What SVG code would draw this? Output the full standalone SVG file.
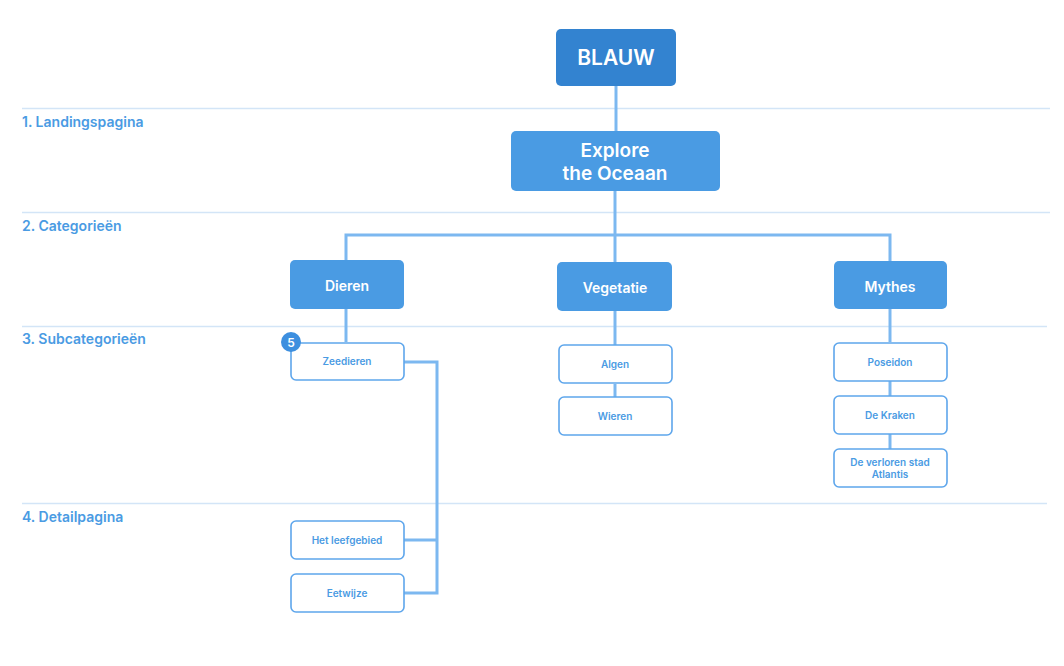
<svg xmlns="http://www.w3.org/2000/svg" width="1064" height="666" viewBox="0 0 1064 666">
<style>
.sep{stroke:#d3e5f7;stroke-width:1.5;fill:none}
.lvl{font-family:Inter,"Noto Sans",sans-serif;font-size:14px;font-weight:600;fill:#4a9be3}
.con{stroke:#7cb8f0;stroke-width:3;fill:none}
.main{fill:#4a9be3}
.top{fill:#3383d0}
.wt{font-family:Inter,"Noto Sans",sans-serif;fill:#ffffff;font-weight:600;text-anchor:middle}
.sub{fill:#ffffff;stroke:#5ea6ec;stroke-width:1.6}
.st{font-family:Inter,"Noto Sans",sans-serif;font-size:10px;font-weight:600;fill:#4a9be3;text-anchor:middle}
</style>
<rect width="1064" height="666" fill="#ffffff"/>
<g id="levels">
<line class="sep" x1="22" y1="108.5" x2="1050" y2="108.5"/>
<line class="sep" x1="22" y1="212.5" x2="1050" y2="212.5"/>
<line class="sep" x1="22" y1="326.5" x2="1047" y2="326.5"/>
<line class="sep" x1="22" y1="503.5" x2="1047" y2="503.5"/>
<text class="lvl" x="22" y="127">1. Landingspagina</text>
<text class="lvl" x="22" y="231">2. Categorieën</text>
<text class="lvl" x="22" y="344">3. Subcategorieën</text>
<text class="lvl" x="22" y="522">4. Detailpagina</text>
</g>
<g id="connectors">
<line class="con" x1="616" y1="86" x2="616" y2="131"/>
<line class="con" x1="615" y1="191" x2="615" y2="262"/>
<polyline class="con" points="346,260 346,235 890,235 890,261"/>
<line class="con" x1="346" y1="309" x2="346" y2="342"/>
<polyline class="con" points="404,362 437,362 437,593 404,593"/>
<line class="con" x1="404" y1="540" x2="437" y2="540"/>
<line class="con" x1="615" y1="311" x2="615" y2="345"/>
<line class="con" x1="615" y1="384" x2="615" y2="397"/>
<line class="con" x1="890" y1="309" x2="890" y2="342"/>
<line class="con" x1="890" y1="381" x2="890" y2="396"/>
<line class="con" x1="890" y1="434" x2="890" y2="449"/>
</g>
<g id="blauw">
<rect class="top" x="556" y="29" width="120" height="57" rx="5"/>
<text class="wt" x="616" y="65" font-size="21">BLAUW</text>
</g>
<g id="explore">
<rect class="main" x="511" y="131" width="209" height="60" rx="5"/>
<text class="wt" x="615" y="157" font-size="19">Explore</text>
<text class="wt" x="615" y="180" font-size="19">the Oceaan</text>
</g>
<g id="dieren">
<rect class="main" x="290" y="260" width="114" height="49" rx="5"/>
<text class="wt" x="347" y="291" font-size="14">Dieren</text>
</g>
<g id="vegetatie">
<rect class="main" x="557" y="262" width="115" height="49" rx="5"/>
<text class="wt" x="615" y="293" font-size="14">Vegetatie</text>
</g>
<g id="mythes">
<rect class="main" x="834" y="261" width="113" height="48" rx="5"/>
<text class="wt" x="890" y="292" font-size="14">Mythes</text>
</g>
<g id="zeedieren">
<rect class="sub" x="291" y="343" width="113" height="37" rx="5"/>
<text class="st" x="347" y="365">Zeedieren</text>
</g>
<g id="badge">
<circle cx="291" cy="342" r="10" fill="#3d8fdf"/>
<text x="291" y="346.5" font-family="Inter,'Noto Sans',sans-serif" font-size="12" font-weight="600" fill="#ffffff" text-anchor="middle">5</text>
</g>
<g id="leefgebied">
<rect class="sub" x="291" y="521" width="113" height="38" rx="5"/>
<text class="st" x="347" y="544">Het leefgebied</text>
</g>
<g id="eetwijze">
<rect class="sub" x="291" y="574" width="113" height="38" rx="5"/>
<text class="st" x="347" y="597">Eetwijze</text>
</g>
<g id="algen">
<rect class="sub" x="559" y="345" width="113" height="38" rx="5"/>
<text class="st" x="615" y="368">Algen</text>
</g>
<g id="wieren">
<rect class="sub" x="559" y="397" width="113" height="38" rx="5"/>
<text class="st" x="615" y="420">Wieren</text>
</g>
<g id="poseidon">
<rect class="sub" x="834" y="343" width="113" height="38" rx="5"/>
<text class="st" x="890" y="366">Poseidon</text>
</g>
<g id="kraken">
<rect class="sub" x="834" y="396" width="113" height="38" rx="5"/>
<text class="st" x="890" y="419">De Kraken</text>
</g>
<g id="atlantis">
<rect class="sub" x="834" y="449" width="113" height="38" rx="5"/>
<text class="st" x="890" y="466">De verloren stad</text>
<text class="st" x="890" y="478">Atlantis</text>
</g>
</svg>
